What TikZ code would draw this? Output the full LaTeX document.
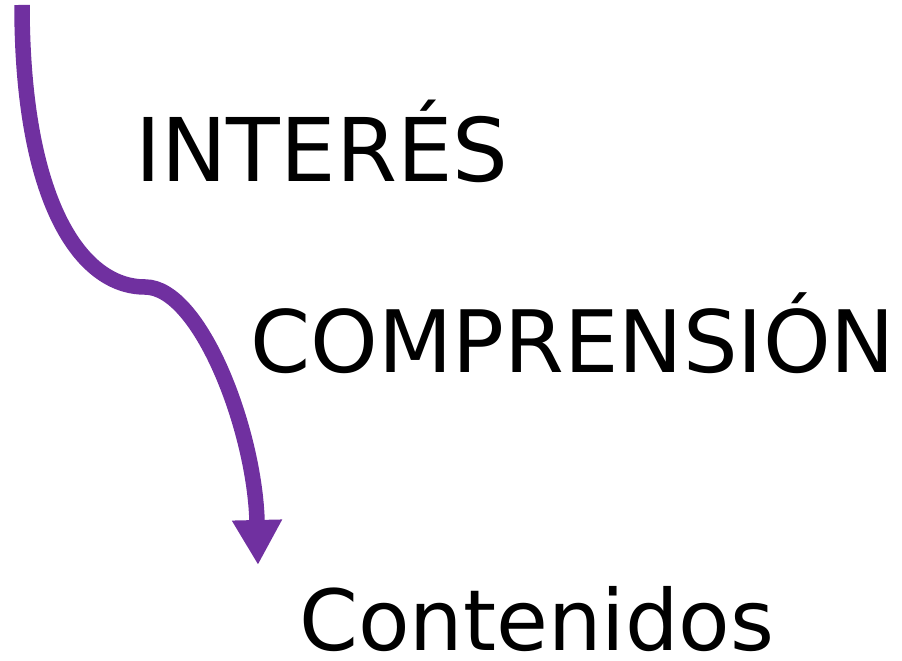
\documentclass[tikz,border=0pt]{standalone}
\usepackage{fontspec}
\setmainfont{DejaVu Sans}
\usepackage{tikz}
\usetikzlibrary{arrows.meta}
\definecolor{flowpurple}{HTML}{7030A0}
\tikzset{
    word/.style={anchor=base west, inner sep=0pt, font=\fontsize{50}{60}\selectfont},
    flow/.style={draw=flowpurple, line width=0.31cm, -{Triangle[length=0.9cm,width=0.94cm]}}
}

\begin{document}
\begin{tikzpicture}
    \useasboundingbox (0, 0) rectangle (18.04, 13.22);
    \node[word] (INT) at (2.70, 9.58) {INTERÉS};
    \node[word, font=\fontsize{49}{58}\selectfont] (COM) at (5.00, 5.76) {COMPRENSIÓN};
    \node[word, font=\fontsize{48}{58}\selectfont] (CON) at (5.98, 0.22) {Contenidos};
    \coordinate (TOP) at (0.44, 13.12);
    \coordinate (BEND) at (2.90, 7.48);
    \coordinate (TIP) at (5.16, 1.92);
    \draw [flow] (TOP) .. controls (0.44, 9.22) and (1.60, 7.48) .. (BEND)
        .. controls (4.00, 7.48) and (5.10, 4.62) .. (TIP);
\end{tikzpicture}
\end{document}
